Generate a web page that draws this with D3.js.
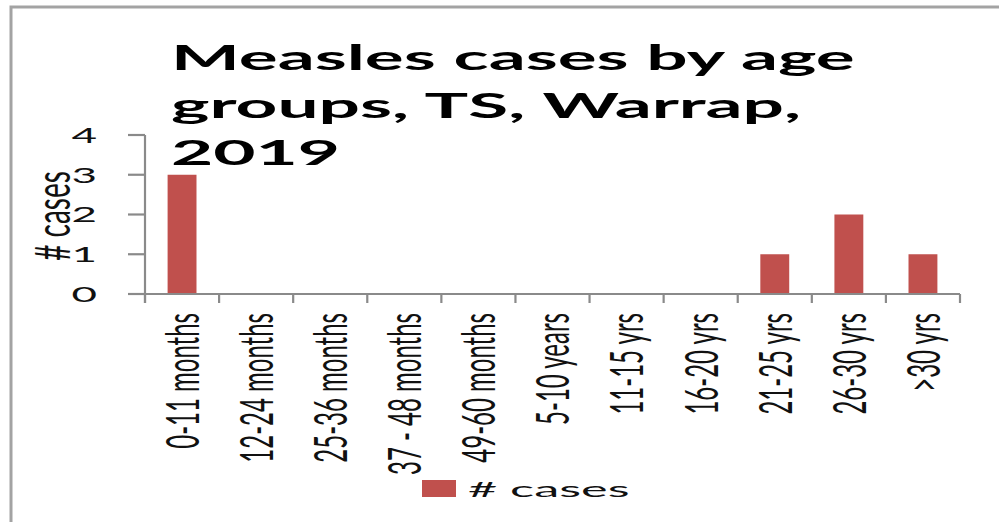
<!DOCTYPE html>
<html>
<head>
<meta charset="utf-8">
<script src="https://cdn.jsdelivr.net/npm/d3@7"></script>
<style>
  html, body { margin: 0; padding: 0; background: #fff; }
  svg { display: block; }
</style>
</head>
<body>
<div id="chart"></div>
<script>
// ---- data ----
const categories = ["0-11 months", "12-24 months", "25-36 months", "37 - 48 months", "49-60 months",
  "5-10 years", "11-15 yrs", "16-20 yrs", "21-25 yrs", "26-30 yrs", ">30 yrs"];
const cases = [3, 0, 0, 0, 0, 0, 0, 0, 1, 2, 1];
const yTicks = [0, 1, 2, 3, 4];
const titleLines = ["Measles cases by age", "groups, TS, Warrap,", "2019"];
const seriesName = "# cases";
const yAxisTitle = "# cases";

// ---- layout / style ----
const W = 999, H = 522;
const plot = { left: 145, right: 960, top: 135, bottom: 294 };
const barColor = "#C0504D";
const axisColor = "#8a8a8a";
const font = "Lato, 'Liberation Sans', Arial, sans-serif";

const svg = d3.select("#chart").append("svg").attr("width", W).attr("height", H);

// frame (cropped border)
svg.append("path")
  .attr("d", `M11,${H} V7 H${W}`)
  .attr("fill", "none").attr("stroke", "#a3a3a3").attr("stroke-width", 3);

const x = d3.scaleBand().domain(categories).range([plot.left, plot.right])
  .paddingInner(0.61).paddingOuter(0.305);
const y = d3.scaleLinear().domain([0, 4]).range([plot.bottom, plot.top]);

// bars
svg.append("g").selectAll("rect").data(categories).join("rect")
  .attr("x", d => x(d))
  .attr("width", x.bandwidth())
  .attr("y", (d, i) => y(cases[i]))
  .attr("height", (d, i) => y(0) - y(cases[i]))
  .attr("fill", barColor);

// y axis
const yAxis = svg.append("g");
yAxis.append("line")
  .attr("x1", plot.left).attr("x2", plot.left)
  .attr("y1", y(4)).attr("y2", y(0) + 9)
  .attr("stroke", axisColor).attr("stroke-width", 2.2);
yAxis.selectAll("line.tick").data(yTicks).join("line").attr("class", "tick")
  .attr("x1", plot.left - 17).attr("x2", plot.left)
  .attr("y1", d => y(d)).attr("y2", d => y(d))
  .attr("stroke", axisColor).attr("stroke-width", 2.2);
yAxis.selectAll("text").data(yTicks).join("text")
  .attr("transform", d => `translate(97,${y(d)}) scale(2.0,1)`)
  .attr("text-anchor", "end").attr("dy", "0.36em")
  .attr("font-family", font).attr("font-size", 22).attr("fill", "#111")
  .text(d => d);

// x axis
const xAxis = svg.append("g");
xAxis.append("line")
  .attr("x1", plot.left).attr("x2", plot.right)
  .attr("y1", y(0)).attr("y2", y(0))
  .attr("stroke", axisColor).attr("stroke-width", 2.2);
const boundaries = d3.range(categories.length + 1).map(i => plot.left + i * x.step());
xAxis.selectAll("line.tick").data(boundaries).join("line").attr("class", "tick")
  .attr("x1", d => d).attr("x2", d => d)
  .attr("y1", y(0)).attr("y2", y(0) + 9)
  .attr("stroke", axisColor).attr("stroke-width", 2.2);
xAxis.selectAll("text").data(categories).join("text")
  .attr("transform", d => `translate(${x(d) + x.bandwidth() / 2},313) scale(1.95,1) rotate(-90)`)
  .attr("text-anchor", "end").attr("dy", "0.36em")
  .attr("font-family", font).attr("font-size", 24).attr("fill", "#111")
  .text(d => d);

// y axis title
svg.append("text")
  .attr("transform", "translate(70,216) scale(1.76,1) rotate(-90)")
  .attr("text-anchor", "middle")
  .attr("font-family", font).attr("font-size", 28).attr("fill", "#111")
  .text(yAxisTitle);

// title
const title = svg.append("g");
const tl = title.selectAll("text").data(titleLines).join("text")
  .attr("font-family", font).attr("font-weight", "bold").attr("font-size", 34)
  .attr("fill", "#000")
  .text(d => d);
const tsx = 684 / tl.nodes()[0].getComputedTextLength();
tl.attr("transform", (d, i) => `translate(171,${70 + i * 47.5}) scale(${tsx},1)`);

// legend
const lg = svg.append("g");
lg.append("rect").attr("x", 422).attr("y", 480).attr("width", 34).attr("height", 17).attr("fill", barColor);
lg.append("text")
  .attr("transform", "translate(468,497) scale(2.4,1)")
  .attr("font-family", font).attr("font-size", 21).attr("fill", "#111")
  .text(seriesName);
</script>
</body>
</html>
